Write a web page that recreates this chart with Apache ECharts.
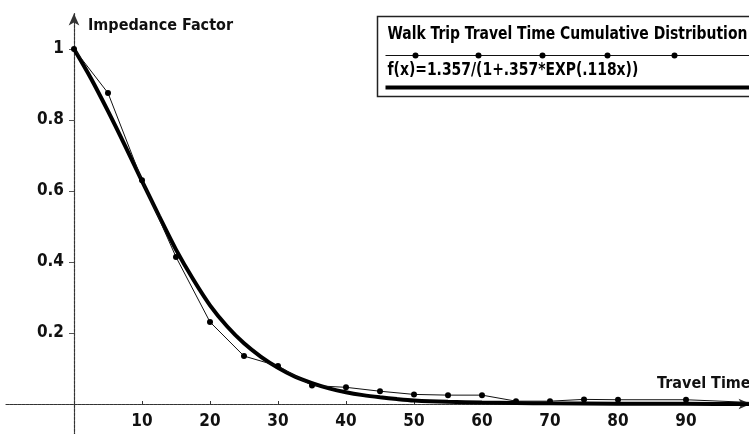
<!DOCTYPE html>
<html>
<head>
<meta charset="utf-8">
<script src="https://cdn.jsdelivr.net/npm/echarts@6/dist/echarts.min.js"></script>
<style>
html,body{margin:0;padding:0;background:#fff;}
#c{width:749px;height:434px;}
</style>
</head>
<body>
<div id="c"></div>
<script>
// Observed distribution (thin line with dots)
const obsX = [0, 5, 10, 15, 20, 25, 30, 35, 40, 45, 50, 55, 60, 65, 70, 75, 80, 90, 100];
const obsY = [1, 0.876, 0.63, 0.414, 0.231, 0.135, 0.107, 0.052, 0.047, 0.036, 0.027, 0.025, 0.025, 0.008, 0.008, 0.013, 0.012, 0.012, 0.004];
// Fitted curve f(x)=1.357/(1+.357*EXP(.118x)) (thick line), values read at these x
const fitX = [0, 2.5, 5, 7.5, 10, 12.5, 15, 17.5, 20, 22.5, 25, 27.5, 30, 32.5, 35, 37.5, 40, 42.5, 45, 47.5, 50, 55, 60, 65, 70, 80, 90, 100];
const fitY = [1, 0.917, 0.825, 0.728, 0.628, 0.530, 0.435, 0.352, 0.278, 0.219, 0.171, 0.133, 0.102, 0.077, 0.059, 0.044, 0.033, 0.025, 0.019, 0.014, 0.010, 0.006, 0.004, 0.003, 0.002, 0.001, 0.0005, 0];
const xTicks = [10, 20, 30, 40, 50, 60, 70, 80, 90];
const yTicks = [0.2, 0.4, 0.6, 0.8, 1];
const legendTitle = 'Walk Trip Travel Time Cumulative Distribution';
const legendFit = 'f(x)=1.357/(1+.357*EXP(.118x))';
const xName = 'Travel Time';
const yName = 'Impedance Factor';

const FONT = "'Liberation Sans Narrow', 'DejaVu Sans Condensed', 'Arial Narrow', sans-serif";
const axisLineStyle = { color: '#333', width: 1.2, type: [3, 1] };

const chart = echarts.init(document.getElementById('c'), null, { renderer: 'canvas' });
chart.setOption({
  animation: false,
  backgroundColor: '#fff',
  grid: { left: 6, top: 13.5, width: 744.6, height: 426, containLabel: false,
    outerBounds: { left: -300, top: -300, right: -300, bottom: -300 } },
  xAxis: {
    type: 'value', min: -10, max: 99.5,
    name: xName, nameLocation: 'end', nameGap: 0,
    nameTextStyle: { fontFamily: FONT, fontWeight: 'bold', fontSize: 16, color: '#111', align: 'right', verticalAlign: 'bottom', padding: [0, 0, 12, 0] },
    axisLine: { onZero: true, lineStyle: axisLineStyle, symbol: ['none', 'arrow'], symbolSize: [8, 12] },
    axisTick: { show: true, inside: true, length: 3, customValues: xTicks, lineStyle: { color: '#333' } },
    axisLabel: { show: true, customValues: xTicks, margin: -26, verticalAlign: 'top', fontFamily: FONT, fontWeight: 'bold', fontSize: 17, color: '#111' },
    splitLine: { show: false }
  },
  yAxis: {
    type: 'value', min: -0.1, max: 1.1,
    name: yName, nameLocation: 'end', nameGap: -12,
    nameTextStyle: { fontFamily: FONT, fontWeight: 'bold', fontSize: 16, color: '#111', align: 'left', verticalAlign: 'middle', padding: [0, 0, 0, 14] },
    axisLine: { onZero: true, lineStyle: axisLineStyle, symbol: ['none', 'arrow'], symbolSize: [8, 12] },
    axisTick: { show: true, inside: false, length: 5, customValues: yTicks, lineStyle: { color: '#555' } },
    axisLabel: { show: true, customValues: yTicks, margin: -58, align: 'right', fontFamily: FONT, fontWeight: 'bold', fontSize: 17, color: '#111',
      formatter: v => String(v) },
    splitLine: { show: false }
  },
  series: [
    {
      type: 'line', name: legendFit, clip: false,
      data: fitX.map((x, i) => [x, fitY[i]]),
      smooth: 0.3, showSymbol: false, symbol: 'none',
      lineStyle: { color: '#000', width: 4 }, z: 3
    },
    {
      type: 'line', name: legendTitle, clip: false,
      data: obsX.map((x, i) => [x, obsY[i]]),
      symbol: 'circle', symbolSize: 6, showSymbol: true,
      itemStyle: { color: '#000' },
      lineStyle: { color: '#111', width: 1 }, z: 4
    }
  ],
  graphic: [
    {
      type: 'group', left: 375, top: 14,
      children: [
        { type: 'rect', shape: { x: 0, y: 0, width: 390, height: 80 }, style: { fill: 'none', stroke: '#222', lineWidth: 1.5 } },
        { type: 'text', x: 10, y: 9, scaleX: 0.86, style: { text: legendTitle, fontFamily: FONT, fontWeight: 'bold', fontSize: 18, fill: '#000' } },
        { type: 'line', shape: { x1: 8, y1: 39, x2: 380, y2: 39 }, style: { stroke: '#111', lineWidth: 1 } },
        { type: 'circle', shape: { cx: 38, cy: 39, r: 3 }, style: { fill: '#000' } },
        { type: 'circle', shape: { cx: 101, cy: 39, r: 3 }, style: { fill: '#000' } },
        { type: 'circle', shape: { cx: 165, cy: 39, r: 3 }, style: { fill: '#000' } },
        { type: 'circle', shape: { cx: 230, cy: 39, r: 3 }, style: { fill: '#000' } },
        { type: 'circle', shape: { cx: 297, cy: 39, r: 3 }, style: { fill: '#000' } },
        { type: 'text', x: 10, y: 45, scaleX: 0.86, style: { text: legendFit, fontFamily: FONT, fontWeight: 'bold', fontSize: 18, fill: '#000' } },
        { type: 'line', shape: { x1: 8, y1: 71, x2: 380, y2: 71 }, style: { stroke: '#000', lineWidth: 4 } }
      ]
    }
  ]
});
</script>
</body>
</html>
